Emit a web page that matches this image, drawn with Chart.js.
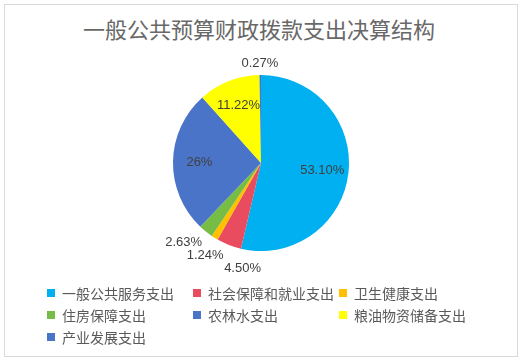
<!DOCTYPE html>
<html>
<head>
<meta charset="utf-8">
<script src="https://cdn.jsdelivr.net/npm/chart.js@4.4.0/dist/chart.umd.min.js"></script>
<style>
  html, body { margin: 0; padding: 0; background: #fff; }
  #wrap { position: relative; width: 526px; height: 359px; overflow: hidden; }
  #frame { position: absolute; left: 4px; top: 4px; width: 514px; height: 353px; box-sizing: border-box; border: 1px solid #d9d9d9; }
  #title { position: absolute; left: 0; top: 12px; width: 518px; text-align: center;
    font: 22px "Noto Sans CJK SC", sans-serif; color: #686868; white-space: nowrap; }
  #pie { position: absolute; left: 0; top: 0; }
  #legend { position: absolute; left: 47px; top: 282px; display: grid;
    grid-template-columns: 146px 146px 146px; grid-auto-rows: 22px; }
  .item { display: flex; align-items: center; font: 14px "Noto Sans CJK SC", sans-serif; color: #595959; white-space: nowrap; }
  .box { width: 8px; height: 8px; margin-right: 7px; flex: none; }
</style>
</head>
<body>
<div id="wrap">
  <div id="frame"></div>
  <div id="title">一般公共预算财政拨款支出决算结构</div>
  <canvas id="pie" width="526" height="359"></canvas>
  <div id="legend"></div>
</div>
<script>
const categories = ["一般公共服务支出", "社会保障和就业支出", "卫生健康支出", "住房保障支出", "农林水支出", "粮油物资储备支出", "产业发展支出"]
const values = [53.10, 4.50, 1.24, 2.63, 26, 11.22, 0.27]
const colors = ["#00B0F0", "#E84C5E", "#FFC000", "#77BC45", "#4A74C8", "#FFFF00", "#4A74C8"]

const fmt = v => (v % 1 === 0 ? String(v) : v.toFixed(2)) + "%"

// slice labels: big slices inside, small ones outside with simple overlap push
const sliceLabels = {
  id: "sliceLabels",
  afterDatasetsDraw(chart) {
    const ctx = chart.ctx
    const meta = chart.getDatasetMeta(0)
    ctx.save()
    ctx.font = "13px 'Liberation Sans', sans-serif"
    ctx.fillStyle = "#404040"
    ctx.textAlign = "center"
    ctx.textBaseline = "middle"
    const h = 12
    const outside = []
    meta.data.forEach((arc, i) => {
      const p = arc.getProps(["x", "y", "startAngle", "endAngle", "outerRadius"], true)
      const mid = (p.startAngle + p.endAngle) / 2
      const text = fmt(values[i])
      if (values[i] >= 5) {
        const rr = p.outerRadius * 0.7
        ctx.fillText(text, p.x + rr * Math.cos(mid), p.y + rr * Math.sin(mid))
        return
      }
      const w = ctx.measureText(text).width
      const ro = p.outerRadius + 6
      const clamp = v => Math.max(-1, Math.min(1, v))
      const px = p.x + ro * Math.cos(mid)
      const py = p.y + ro * Math.sin(mid)
      outside.push({
        text, w, ro, cx0: p.x, cy0: p.y, left: Math.cos(mid) < 0, lower: Math.sin(mid) > 0,
        x: px + (w / 2) * clamp(2 * Math.cos(mid)),
        y: py + (h / 2) * clamp(2 * Math.sin(mid))
      })
    })

    const lower = outside.filter(l => l.lower).sort((a, b) => a.y - b.y)
    for (let k = 1; k < lower.length; k++) {
      const prev = lower[k - 1], cur = lower[k]
      if (cur.y < prev.y + h + 1 && Math.abs(cur.x - prev.x) < (cur.w + prev.w) / 2) {
        cur.y = prev.y + h + 1
        const dy = cur.y - h / 2 - cur.cy0
        const dx = Math.sqrt(Math.max(0, cur.ro * cur.ro - dy * dy))
        cur.x = cur.left ? cur.cx0 - dx - cur.w / 2 : cur.cx0 + dx + cur.w / 2
      }
    }
    outside.forEach(l => ctx.fillText(l.text, l.x, l.y))
    ctx.restore()
  }
}

new Chart(document.getElementById("pie"), {
  type: "pie",
  data: {
    labels: categories,
    datasets: [{
      data: values,
      backgroundColor: colors,
      borderWidth: 0,
      radius: 88
    }]
  },
  options: {
    responsive: false,
    animation: false,
    layout: { padding: { left: 170, right: 174, top: 70, bottom: 103 } },
    plugins: {
      legend: { display: false },
      tooltip: { enabled: false },
      title: { display: false }
    }
  },
  plugins: [sliceLabels]
})

const legend = document.getElementById("legend")
categories.forEach((name, i) => {
  const item = document.createElement("div")
  item.className = "item"
  item.innerHTML = `<span class="box" style="background:${colors[i]}"></span><span>${name}</span>`
  legend.appendChild(item)
})
</script>
</body>
</html>
